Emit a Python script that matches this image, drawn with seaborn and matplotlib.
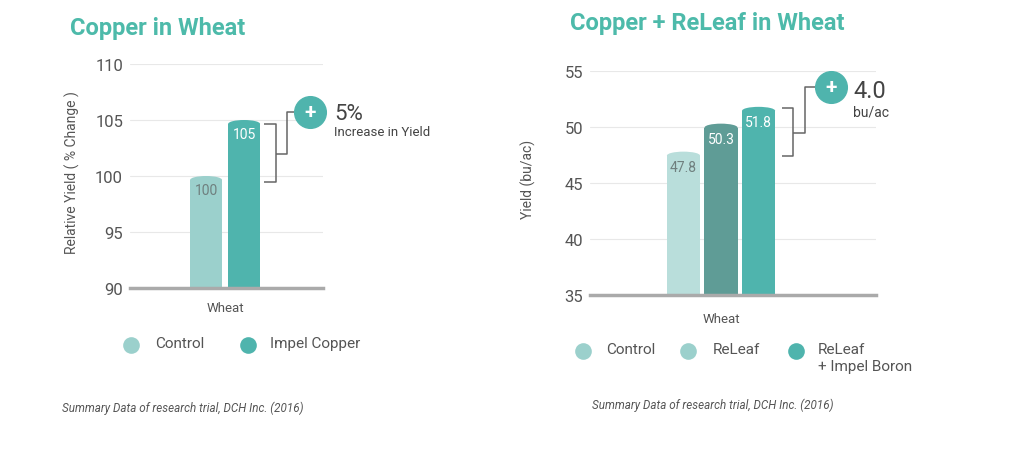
import pandas as pd
import matplotlib.pyplot as plt
import seaborn as sns
from matplotlib.patches import Ellipse

# data
crop = ['Wheat']
left_treatments = ['Control', 'Impel Copper']
left_values = [100, 105]
left_labels = ['100', '105']
right_treatments = ['Control', 'ReLeaf', 'ReLeaf\n+ Impel Boron']
right_values = [47.8, 50.3, 51.8]
right_labels = ['47.8', '50.3', '51.8']

left_colors = ['#9bd0cc', '#4fb4ad']
right_colors = ['#b9dedb', '#5f9c96', '#4fb4ad']
right_legend_colors = ['#9bd0cc', '#9bd0cc', '#4fb4ad']
label_colors_left = ['#6f7f7e', 'white']
label_colors_right = ['#6f7f7e', 'white', 'white']
teal = '#4dbaaa'
grey = '#555555'

sns.set_style('white')
plt.rcParams['font.family'] = ['Roboto', 'DejaVu Sans']

df_left = pd.DataFrame({'crop': crop * len(left_treatments),
                        'treatment': left_treatments, 'value': left_values})
df_right = pd.DataFrame({'crop': crop * len(right_treatments),
                         'treatment': right_treatments, 'value': right_values})

fig = plt.figure(figsize=(10.24, 4.56), dpi=100)
ax1 = fig.add_axes([130 / 1024, 1 - 289 / 456, 193 / 1024, 224 / 456])
ax2 = fig.add_axes([590 / 1024, 1 - 296 / 456, 286 / 1024, 224 / 456])


def style_axes(ax, ylim, yticks, ylabel, label_x, xpad):
    ax.set_ylim(*ylim)
    ax.set_yticks(yticks)
    ax.set_yticklabels([str(t) for t in yticks], fontsize=12, color=grey)
    ax.tick_params(axis='y', length=0, pad=5)
    ax.tick_params(axis='x', length=0, pad=xpad, labelsize=9.5, labelcolor=grey)
    ax.set_xlabel('')
    ax.set_ylabel(ylabel, fontsize=10, color=grey)
    ax.yaxis.set_label_coords(label_x, 0.52)
    for s in ['top', 'right', 'left']:
        ax.spines[s].set_visible(False)
    ax.spines['bottom'].set_color('#aaaaaa')
    ax.spines['bottom'].set_linewidth(2.5)
    ax.spines['bottom'].set_zorder(4)
    ax.grid(axis='y', color='#e8e8e8', linewidth=0.8)
    ax.set_axisbelow(True)


def round_tops(ax, cap):
    # give each seaborn bar a shallow rounded top
    for p in list(ax.patches):
        top = p.get_y() + p.get_height()
        cx = p.get_x() + p.get_width() / 2
        p.set_linewidth(0)
        p.set_height(p.get_height() - cap / 2)
        ax.add_patch(Ellipse((cx, top - cap / 2), p.get_width(), cap,
                             facecolor=p.get_facecolor(), edgecolor='none',
                             linewidth=0, zorder=p.get_zorder()))


# left chart
sns.barplot(data=df_left, x='crop', y='value', hue='treatment', palette=left_colors,
            saturation=1, width=0.8, gap=0.16, legend=False, ax=ax1)
ax1.set_xlim(-1.0, 1.03)
style_axes(ax1, (90, 110), [90, 95, 100, 105, 110], 'Relative Yield ( % Change )',
           -0.26, 9)
bars1 = list(ax1.patches)
for p, lab, c, v in zip(bars1, left_labels, label_colors_left, left_values):
    ax1.text(p.get_x() + p.get_width() / 2, v - 1.25, lab,
             ha='center', va='center', fontsize=10, color=c, zorder=5)
round_tops(ax1, 0.7)

# right chart
sns.barplot(data=df_right, x='crop', y='value', hue='treatment', palette=right_colors,
            saturation=1, width=0.8, gap=0.12, legend=False, ax=ax2)
ax2.set_xlim(-0.93, 1.10)
style_axes(ax2, (35, 55), [35, 40, 45, 50, 55], 'Yield (bu/ac)', -0.19, 12)
bars2 = list(ax2.patches)
for p, lab, c, v in zip(bars2, right_labels, label_colors_right, right_values):
    ax2.text(p.get_x() + p.get_width() / 2, v - 1.35, lab,
             ha='center', va='center', fontsize=10, color=c, zorder=5)
round_tops(ax2, 0.7)

# brackets and plus circles
bk = dict(color='#666666', lw=1.1, clip_on=False, solid_capstyle='butt')
ax1.plot([0.41, 0.537, 0.537, 0.41], [104.6, 104.6, 99.5, 99.5], **bk)
ax1.plot([0.537, 0.653, 0.653, 0.85], [102.0, 102.0, 105.7, 105.7], **bk)
ax1.scatter([0.895], [105.7], s=520, color='#4fb4ad', zorder=5, clip_on=False)
ax1.text(0.895, 105.75, '+', ha='center', va='center', color='white',
         fontsize=15, fontweight='bold', zorder=6)

ax2.plot([0.434, 0.512, 0.512, 0.434], [51.7, 51.7, 47.4, 47.4], **bk)
ax2.plot([0.512, 0.597, 0.597, 0.74], [49.5, 49.5, 53.6, 53.6], **bk)
ax2.scatter([0.782], [53.6], s=520, color='#4fb4ad', zorder=5, clip_on=False)
ax2.text(0.782, 53.65, '+', ha='center', va='center', color='white',
         fontsize=15, fontweight='bold', zorder=6)

# callout texts
fig.text(334 / 1024, 1 - 114 / 456, '5%', fontsize=16, color='#444444', va='center')
fig.text(334 / 1024, 1 - 133 / 456, 'Increase in Yield', fontsize=9.5, color='#444444', va='center')
fig.text(853 / 1024, 1 - 92 / 456, '4.0', fontsize=17, color='#444444', va='center')
fig.text(853 / 1024, 1 - 113 / 456, 'bu/ac', fontsize=10, color='#444444', va='center')

# titles
fig.text(70 / 1024, 1 - 28 / 456, 'Copper in Wheat', fontsize=17, fontweight='bold',
         color=teal, va='center')
fig.text(570 / 1024, 1 - 24 / 456, 'Copper + ReLeaf in Wheat', fontsize=17,
         fontweight='bold', color=teal, va='center')


# legends, drawn as dots plus text
def make_legend(names, colors, dot_x, text_x, y):
    for n, c, dx, tx in zip(names, colors, dot_x, text_x):
        fig.add_artist(plt.Line2D([dx / 1024], [1 - y / 456], marker='o', markersize=12,
                                  markerfacecolor=c, markeredgecolor='none',
                                  transform=fig.transFigure))
        fig.text(tx / 1024, 1 - (y - 9) / 456, n, fontsize=11, color=grey, va='top',
                 linespacing=1.25)


make_legend(left_treatments, left_colors, [131, 248], [155, 270], 346)
make_legend(right_treatments, right_legend_colors, [583, 688, 796], [606, 713, 818], 352)

# footnotes
fig.text(62 / 1024, 1 - 408 / 456, 'Summary Data of research trial, DCH Inc. (2016)',
         fontsize=8.4, style='italic', color='#555555', va='center')
fig.text(592 / 1024, 1 - 405 / 456, 'Summary Data of research trial, DCH Inc. (2016)',
         fontsize=8.4, style='italic', color='#555555', va='center')

fig.savefig('out.png', dpi=100, facecolor='white')
